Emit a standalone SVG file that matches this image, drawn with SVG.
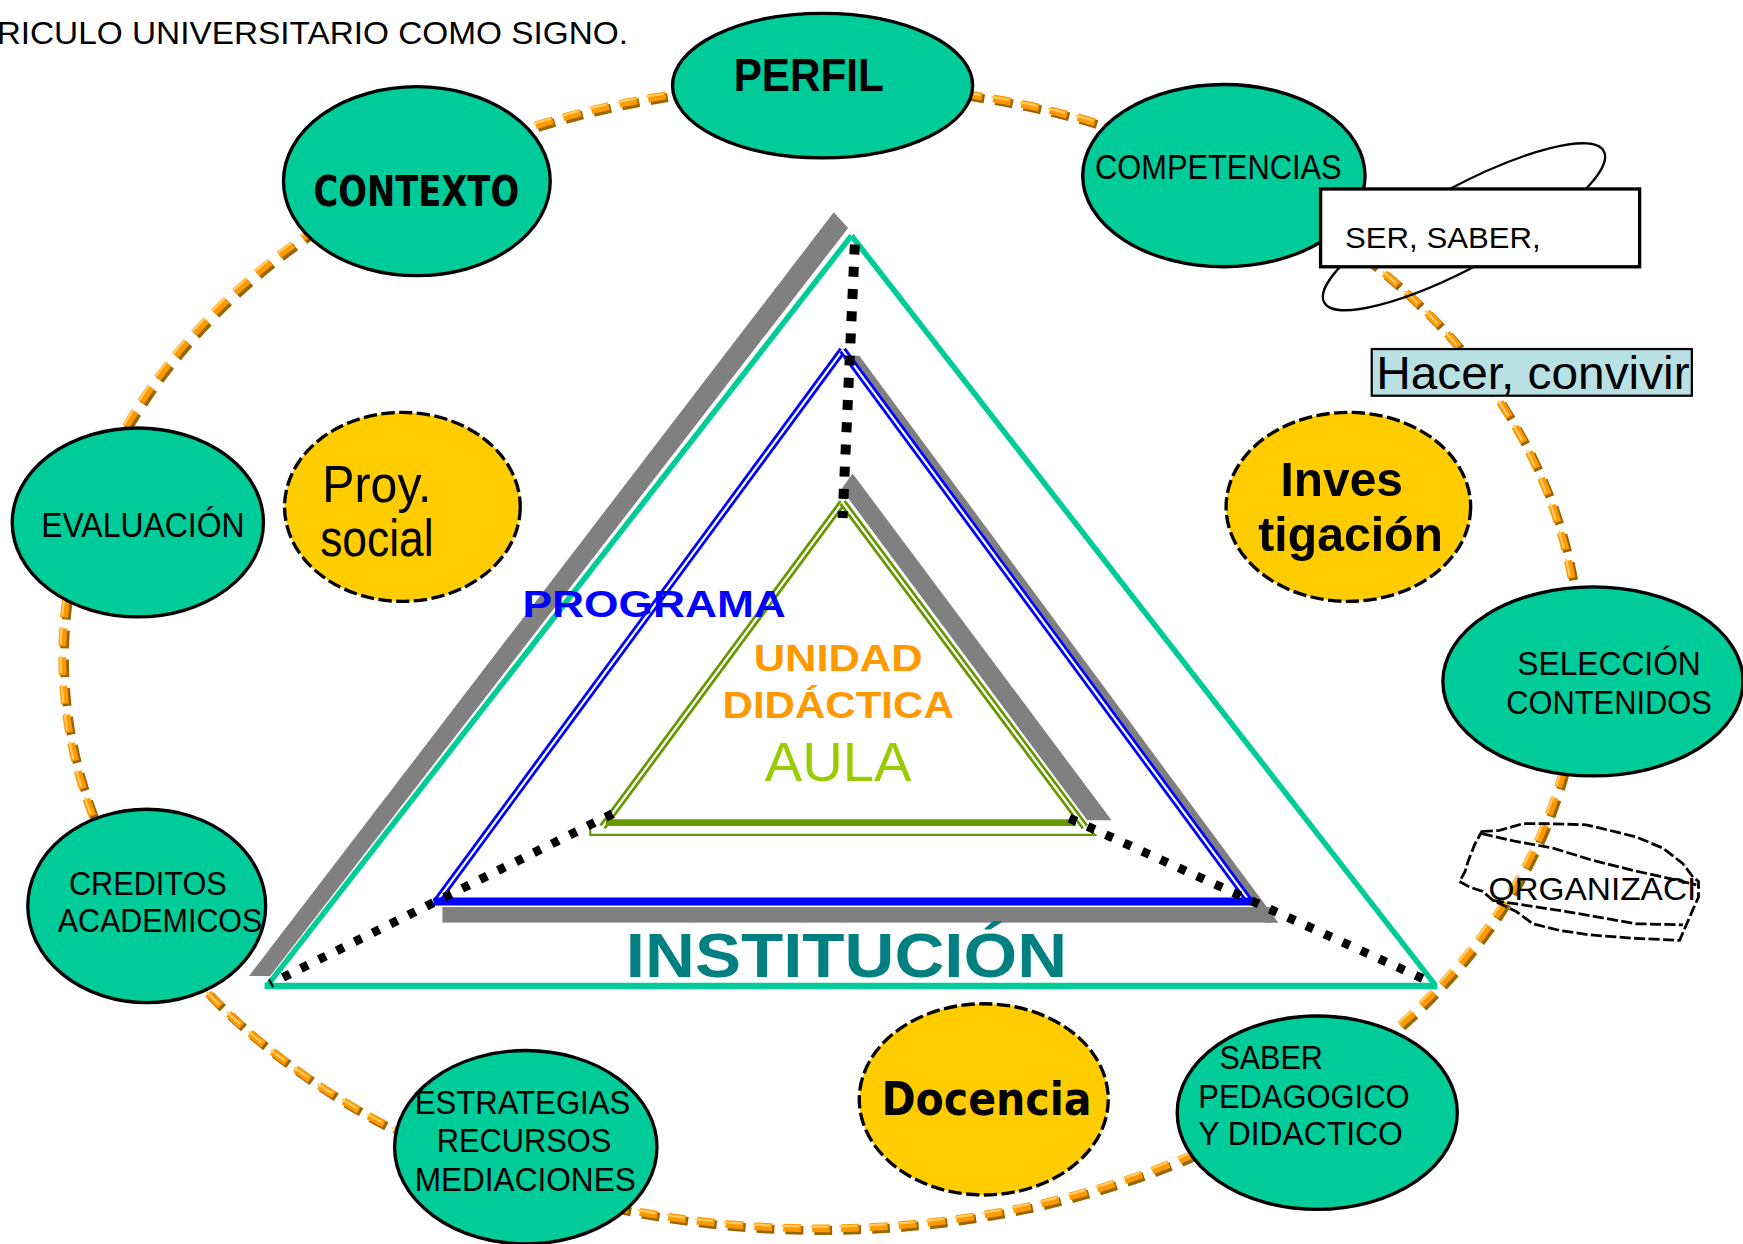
<svg xmlns="http://www.w3.org/2000/svg" width="1743" height="1244" viewBox="0 0 1743 1244">
<style>
.t{fill:#00cc99;stroke:#000;stroke-width:3}
.y{fill:#ffcc00;stroke:#000;stroke-width:3;stroke-dasharray:12 4}
.lbl{font-family:"Liberation Sans",Arial,sans-serif;fill:#000}
.b{font-weight:bold}
.dots{fill:none;stroke:#000;stroke-linecap:butt}
.gray{fill:#808080}
.org{fill:none;stroke:#000;stroke-width:2.5;stroke-dasharray:10 3}
</style>
<rect width="1743" height="1244" fill="#fff"/>
<g transform="scale(1.1116)">
<g id="connectors">
<ellipse cx="740" cy="592" rx="682" ry="515" fill="none" stroke="#996600" stroke-width="8" stroke-dasharray="16 10"/>
<ellipse cx="738" cy="590" rx="682" ry="515" fill="none" stroke="#ff9900" stroke-width="7" stroke-dasharray="16 10"/>
<ellipse cx="736.5" cy="588.5" rx="682" ry="515" fill="none" stroke="#ffcc66" stroke-width="2" stroke-dasharray="16 10"/>
</g>
<g id="title"><text class="lbl" x="-3" y="40" font-size="28" textLength="568" lengthAdjust="spacingAndGlyphs">RICULO UNIVERSITARIO  COMO SIGNO.</text></g>
<g id="triangles">
<polygon class="gray" points="750,191 763,205 243,878 224,878"/>
<line x1="766" y1="212" x2="241" y2="886" stroke="#00cc99" stroke-width="5"/>
<line x1="766" y1="212" x2="1291" y2="886" stroke="#00cc99" stroke-width="5"/>
<line x1="238" y1="887" x2="1293" y2="887" stroke="#00cc99" stroke-width="6"/>
<polygon class="gray" points="763,320 773,320 1150,830 1138,830"/>
<rect class="gray" x="398" y="816" width="747" height="14"/>
<line x1="758" y1="315" x2="392" y2="812" stroke="#0000ff" stroke-width="7"/>
<line x1="758" y1="315" x2="392" y2="812" stroke="#fff" stroke-width="2"/>
<line x1="758" y1="315" x2="1125" y2="812" stroke="#0000ff" stroke-width="7"/>
<line x1="758" y1="315" x2="1125" y2="812" stroke="#fff" stroke-width="2"/>
<line x1="390" y1="811" x2="1128" y2="811" stroke="#0000ff" stroke-width="7"/>
<polygon class="gray" points="757,440 767,426 1000,738 978,738"/>
<line x1="758" y1="452" x2="542" y2="744" stroke="#669900" stroke-width="7"/>
<line x1="758" y1="452" x2="542" y2="744" stroke="#fff" stroke-width="2"/>
<line x1="758" y1="452" x2="976" y2="744" stroke="#669900" stroke-width="7"/>
<line x1="758" y1="452" x2="976" y2="744" stroke="#fff" stroke-width="2"/>
<line x1="545" y1="740" x2="968" y2="740" stroke="#669900" stroke-width="6"/>
<polyline points="531,744 531,751 985,751 978,744" fill="none" stroke="#669900" stroke-width="2"/>
<line class="dots" x1="769" y1="220" x2="758" y2="466" stroke-width="9" stroke-dasharray="9 11"/>
<line class="dots" x1="551" y1="732" x2="243" y2="885" stroke-width="8" stroke-dasharray="7 11"/>
<line class="dots" x1="962" y1="736" x2="1288" y2="884" stroke-width="8" stroke-dasharray="7 11"/>
<text x="470" y="555" font-family="Liberation Sans,Arial,sans-serif" font-weight="bold" font-size="34" fill="#0000ff" textLength="237" lengthAdjust="spacingAndGlyphs">PROGRAMA</text>
<text x="678" y="604" font-family="Liberation Sans,Arial,sans-serif" font-weight="bold" font-size="34" fill="#ff9900" textLength="152" lengthAdjust="spacingAndGlyphs">UNIDAD</text>
<text x="650" y="646" font-family="Liberation Sans,Arial,sans-serif" font-weight="bold" font-size="34" fill="#ff9900" textLength="208" lengthAdjust="spacingAndGlyphs">DIDÁCTICA</text>
<text x="688" y="703" font-family="Liberation Sans,Arial,sans-serif" font-size="50" fill="#99cc00" textLength="132" lengthAdjust="spacingAndGlyphs">AULA</text>
<text x="563" y="879" font-family="Liberation Sans,Arial,sans-serif" font-weight="bold" font-size="56" fill="#008080" textLength="397" lengthAdjust="spacingAndGlyphs">INSTITUCIÓN</text>
</g>
<g id="perfil"><ellipse class="t" cx="740" cy="77" rx="135" ry="65"/><text class="lbl b" x="660" y="82" font-size="42" textLength="135" lengthAdjust="spacingAndGlyphs">PERFIL</text></g>
<g id="contexto"><ellipse class="t" cx="375" cy="163" rx="120" ry="85"/><text x="282" y="185" font-family="DejaVu Sans,sans-serif" font-weight="900" font-size="38" textLength="185" lengthAdjust="spacingAndGlyphs">CONTEXTO</text></g>
<g id="competencias"><ellipse class="t" cx="1101" cy="158" rx="127" ry="82"/><text class="lbl" x="985" y="161" font-size="32" textLength="222" lengthAdjust="spacingAndGlyphs">COMPETENCIAS</text></g>
<g id="evaluacion"><ellipse class="t" cx="124" cy="470" rx="113" ry="85"/><text class="lbl" x="37" y="483" font-size="31" textLength="183" lengthAdjust="spacingAndGlyphs">EVALUACIÓN</text></g>
<g id="proy"><ellipse class="y" cx="362" cy="456" rx="106" ry="85"/><text class="lbl" x="290" y="452" font-size="46" textLength="98" lengthAdjust="spacingAndGlyphs">Proy.</text><text class="lbl" x="288" y="500" font-size="46" textLength="102" lengthAdjust="spacingAndGlyphs">social</text></g>
<g id="investigacion"><ellipse class="y" cx="1213" cy="456" rx="110" ry="85"/><text class="lbl b" x="1152" y="446" font-size="44" textLength="110" lengthAdjust="spacingAndGlyphs">Inves</text><text class="lbl b" x="1132" y="496" font-size="44" textLength="166" lengthAdjust="spacingAndGlyphs">tigación</text></g>
<g id="seleccion"><ellipse class="t" cx="1433" cy="613" rx="135" ry="85"/><text class="lbl" x="1365" y="607" font-size="30" textLength="165" lengthAdjust="spacingAndGlyphs">SELECCIÓN</text><text class="lbl" x="1355" y="642" font-size="30" textLength="185" lengthAdjust="spacingAndGlyphs">CONTENIDOS</text></g>
<g id="creditos"><ellipse class="t" cx="132" cy="815" rx="107" ry="87"/><text class="lbl" x="62" y="805" font-size="30" textLength="142" lengthAdjust="spacingAndGlyphs">CREDITOS</text><text class="lbl" x="52" y="838" font-size="30" textLength="184" lengthAdjust="spacingAndGlyphs">ACADEMICOS</text></g>
<g id="estrategias"><ellipse class="t" cx="473" cy="1032" rx="118" ry="87"/><text class="lbl" x="373" y="1002" font-size="30" textLength="194" lengthAdjust="spacingAndGlyphs">ESTRATEGIAS</text><text class="lbl" x="393" y="1036" font-size="30" textLength="157" lengthAdjust="spacingAndGlyphs">RECURSOS</text><text class="lbl" x="373" y="1071" font-size="30" textLength="199" lengthAdjust="spacingAndGlyphs">MEDIACIONES</text></g>
<g id="docencia"><ellipse class="y" cx="885" cy="989" rx="112" ry="86"/><text x="793" y="1003" font-family="DejaVu Sans,sans-serif" font-weight="900" font-size="42" textLength="189" lengthAdjust="spacingAndGlyphs">Docencia</text></g>
<g id="saber"><ellipse class="t" cx="1185" cy="1001" rx="126" ry="87"/><text class="lbl" x="1097" y="962" font-size="30" textLength="93" lengthAdjust="spacingAndGlyphs">SABER</text><text class="lbl" x="1078" y="997" font-size="30" textLength="190" lengthAdjust="spacingAndGlyphs">PEDAGOGICO</text><text class="lbl" x="1078" y="1030" font-size="30" textLength="184" lengthAdjust="spacingAndGlyphs">Y DIDACTICO</text></g>
<g id="ser-saber"><ellipse cx="1317" cy="204" rx="143" ry="36" transform="rotate(-28.4 1317 204)" fill="none" stroke="#000" stroke-width="2"/><rect x="1188" y="170" width="287" height="70" fill="#fff" stroke="#000" stroke-width="3"/><text class="lbl" x="1210" y="223" font-size="27" textLength="176" lengthAdjust="spacingAndGlyphs">SER, SABER,</text></g>
<g id="hacer"><rect x="1234" y="314" width="288" height="42" fill="#b9e0e2" stroke="#000" stroke-width="2"/><text class="lbl" x="1238" y="350" font-size="42" textLength="282" lengthAdjust="spacingAndGlyphs">Hacer, convivir</text></g>
<g id="organizaci">
<path class="org" d="M1333,748 L1349,747 L1370,741 L1394,741 L1427,742 L1448,747 L1472,753 L1496,763 L1514,777 L1523,789 L1528,793 L1528,807 L1520,825 L1511,846 L1469,844 L1430,841 L1403,837 L1379,831 L1364,820 L1343,810 L1334,802 L1322,798 L1313,793 L1318,784 L1321,774 L1327,759 Z"/>
<path class="org" d="M1333,750 L1364,757 L1397,763 L1433,774 L1469,783 L1496,789 L1526,796"/>
<path class="org" d="M1343,810 L1409,820 L1472,831 L1514,832"/>
<text class="lbl" x="1339" y="810" font-size="28" textLength="187" lengthAdjust="spacingAndGlyphs">ORGANIZACI</text>
</g>
</g>
</svg>
